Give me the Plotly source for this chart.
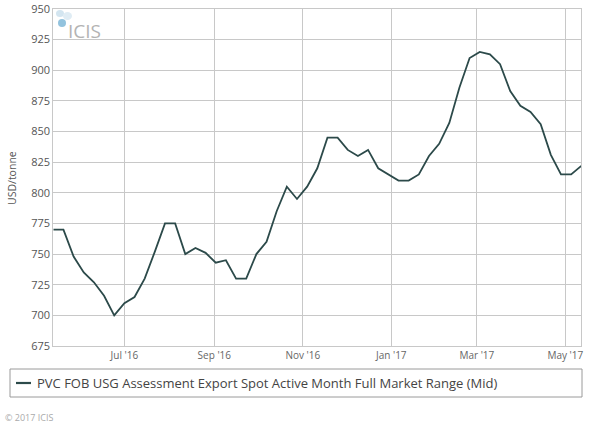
import pandas as pd
import plotly.graph_objects as go

start_date = "2016-05-13"
values = [770, 770, 748, 735, 727, 716, 700, 710, 715, 730,
          752, 775, 775, 750, 755, 751, 743, 745, 730, 730,
          750, 760, 785, 805, 795, 805, 820, 845, 845, 835,
          830, 835, 820, 815, 810, 810, 815, 830, 840, 857,
          886, 910, 915, 913, 905, 883, 871, 866, 856, 831,
          815, 815, 822]
dates = pd.date_range(start_date, periods=len(values), freq="7D")

tick_dates = ["2016-07-01", "2016-09-01", "2016-11-01", "2017-01-01", "2017-03-01", "2017-05-01"]
tick_labels = ["Jul '16", "Sep '16", "Nov '16", "Jan '17", "Mar '17", "May '17"]
y_ticks = [675, 700, 725, 750, 775, 800, 825, 850, 875, 900, 925, 950]

series_name = "PVC FOB USG Assessment Export Spot Active Month Full Market Range (Mid)"
line_color = "#2c4a4a"

# paper spans x 4..582 px, y 9..404 px
W0, W = 4, 578
H0, H = 404, 395


def px(x):
    return (x - W0) / W


def py(y):
    return (H0 - y) / H


fig = go.Figure()
fig.add_trace(go.Scatter(
    x=dates, y=values, mode="lines", name=series_name,
    line=dict(color=line_color, width=1.8), showlegend=False,
))

grid = "#c8c8c8"
fig.update_layout(
    width=600, height=429,
    margin=dict(l=W0, r=600 - W0 - W, t=9, b=429 - H0, autoexpand=False),
    paper_bgcolor="white", plot_bgcolor="white",
    font=dict(family="Open Sans, DejaVu Sans, sans-serif", color="#555"),
    showlegend=False,
    xaxis=dict(
        domain=[px(53.3), px(581.3)],
        range=[dates[0], dates[-1]],
        tickvals=pd.to_datetime(tick_dates), ticktext=tick_labels,
        showgrid=True, gridcolor=grid, gridwidth=1,
        showline=True, linecolor=grid, mirror=True,
        ticks="", tickfont=dict(size=10, color="#666"),
        zeroline=False, automargin=False,
    ),
    yaxis=dict(
        domain=[py(346), 1.0],
        range=[675, 950], tickvals=y_ticks,
        showgrid=True, gridcolor=grid, gridwidth=1,
        showline=True, linecolor=grid, mirror=True,
        ticks="", tickfont=dict(size=11, color="#555"),
        zeroline=False, automargin=False,
    ),
    shapes=[
        # legend box
        dict(type="rect", xref="paper", yref="paper",
             x0=px(10), x1=px(582), y0=py(397), y1=py(369),
             line=dict(color="#9a9a9a", width=1), fillcolor="rgba(0,0,0,0)"),
        # legend swatch
        dict(type="line", xref="paper", yref="paper",
             x0=px(16), x1=px(31), y0=py(383), y1=py(383),
             line=dict(color=line_color, width=2.2)),
        # ICIS logo marks
        dict(type="circle", xref="paper", yref="paper",
             x0=px(56), x1=px(64), y0=py(17), y1=py(10),
             line=dict(width=0), fillcolor="#d3e5f0"),
        dict(type="circle", xref="paper", yref="paper",
             x0=px(63), x1=px(72), y0=py(20), y1=py(12),
             line=dict(width=0), fillcolor="#dfecf4"),
        dict(type="circle", xref="paper", yref="paper",
             x0=px(58), x1=px(66), y0=py(27), y1=py(19),
             line=dict(width=0), fillcolor="#93c3de"),
    ],
    annotations=[
        dict(text=series_name, xref="paper", yref="paper", x=px(35), y=py(383),
             xanchor="left", yanchor="middle", showarrow=False,
             font=dict(size=13, color="#444")),
        dict(text="ICIS", xref="paper", yref="paper", x=px(66), y=py(31),
             xanchor="left", yanchor="middle", showarrow=False,
             font=dict(size=19, color="#b3b3b3")),
        dict(text="USD/tonne", xref="paper", yref="paper", x=px(12), y=py(178),
             xanchor="center", yanchor="middle", textangle=-90, showarrow=False,
             font=dict(size=10.5, color="#555")),
        dict(text="© 2017 ICIS", xref="paper", yref="paper", x=px(3), y=py(417),
             xanchor="left", yanchor="middle", showarrow=False,
             font=dict(size=9, color="#aaa")),
    ],
)

fig.write_html("out.html", config={"displayModeBar": False},
               post_script="document.body.style.margin='0';")
